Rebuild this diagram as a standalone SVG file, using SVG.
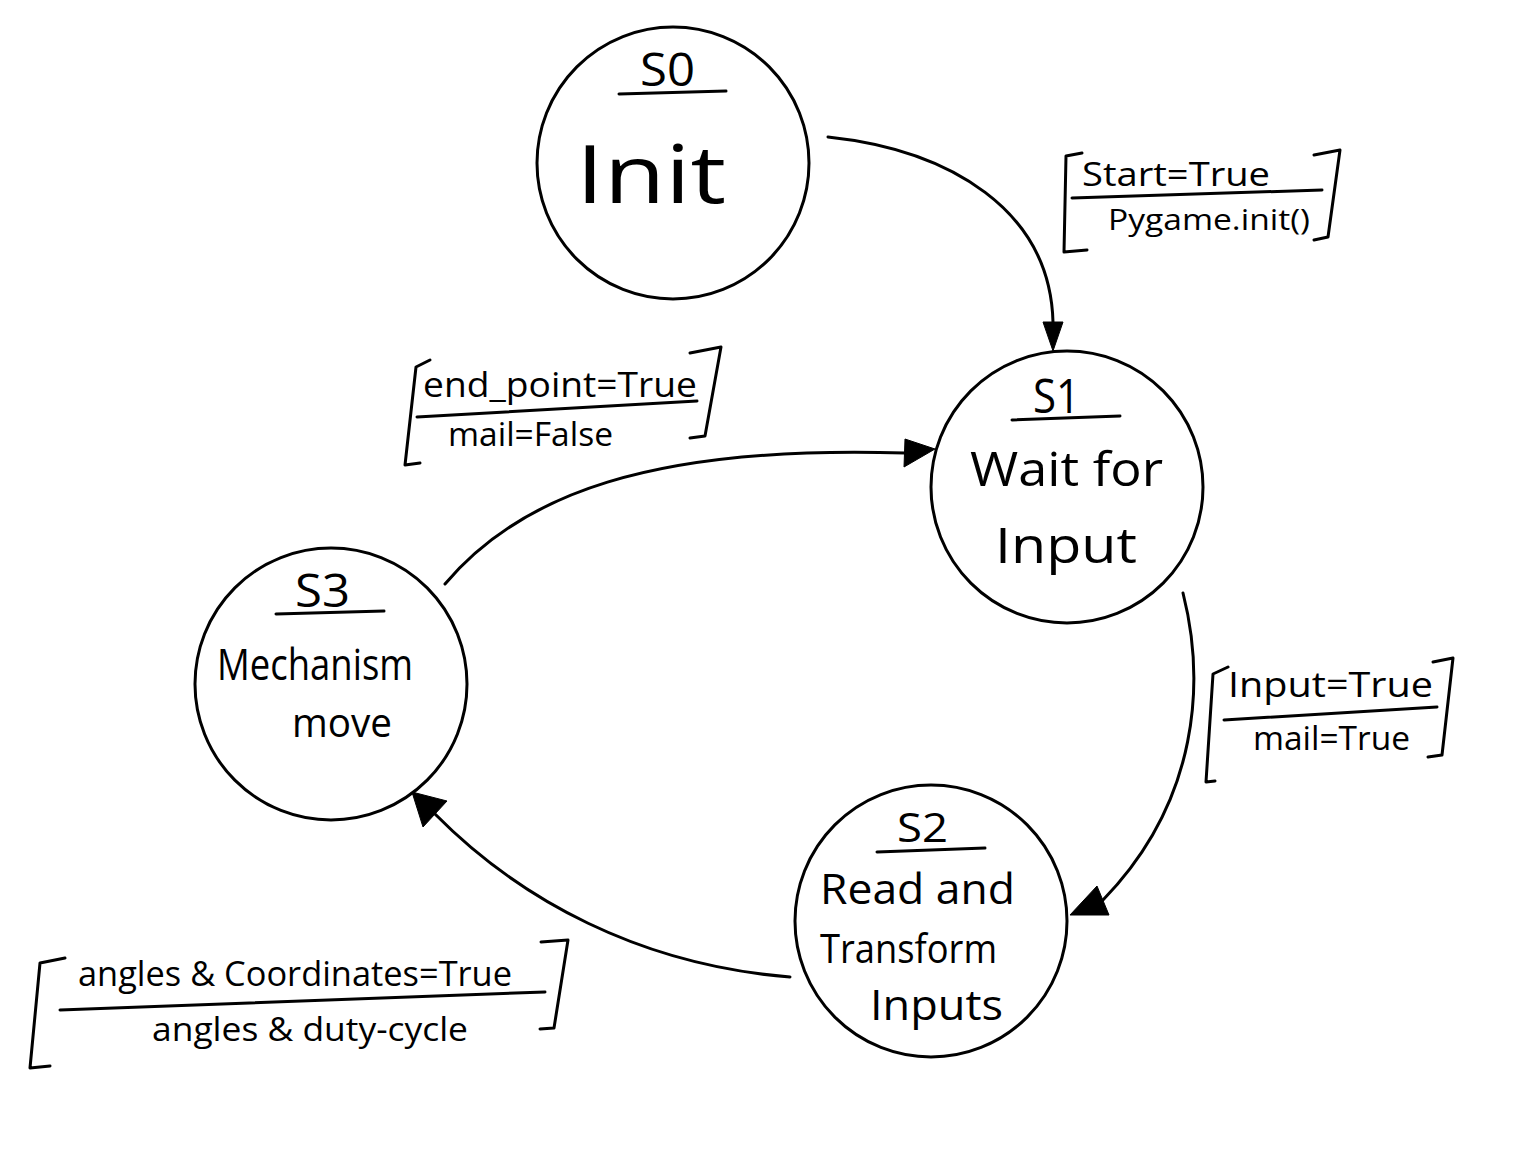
<svg xmlns="http://www.w3.org/2000/svg" width="1513" height="1157" viewBox="0 0 1513 1157">
<style>
.st{fill:#fff;stroke:#000;stroke-width:3}
.ln{fill:none;stroke:#000;stroke-width:3;stroke-linecap:round;stroke-linejoin:round}
.ah{fill:#000;stroke:#000;stroke-width:1}
text{font-family:"Open Sans","DejaVu Sans",sans-serif;fill:#000}
</style>
<rect width="1513" height="1157" fill="#fff"/>
<g id="connectors">
  <path class="ln" d="M828,137 C950,150 1050,210 1053,322"/>
  <polygon class="ah" points="1053,351 1043,322 1063,322"/>
  <path class="ln" d="M1183,593 C1205,680 1200,800 1103,900"/>
  <polygon class="ah" points="1070,915 1097,886 1109,915"/>
  <path class="ln" d="M790,977 C640,965 520,900 435,814"/>
  <polygon class="ah" points="412,792 447,801 423,827"/>
  <path class="ln" d="M445,584 C520,495 650,445 905,453"/>
  <polygon class="ah" points="935,449 905,439 904,467"/>
</g>
<g id="S0">
  <circle class="st" cx="673" cy="163" r="136"/>
  <text x="640" y="86" font-size="46" textLength="55" lengthAdjust="spacingAndGlyphs">S0</text>
  <line class="ln" x1="619" y1="94" x2="726" y2="91"/>
  <text x="576" y="203" font-size="80" textLength="150" lengthAdjust="spacingAndGlyphs">Init</text>
</g>
<g id="S1">
  <circle class="st" cx="1067" cy="487" r="136"/>
  <text x="1033" y="413" font-size="48" textLength="47" lengthAdjust="spacingAndGlyphs">S1</text>
  <line class="ln" x1="1012" y1="420" x2="1120" y2="416"/>
  <text x="970" y="486" font-size="48" textLength="193" lengthAdjust="spacingAndGlyphs">Wait for</text>
  <text x="995" y="563" font-size="50" textLength="142" lengthAdjust="spacingAndGlyphs">Input</text>
</g>
<g id="S2">
  <circle class="st" cx="931" cy="921" r="136"/>
  <text x="897" y="842" font-size="40" textLength="51" lengthAdjust="spacingAndGlyphs">S2</text>
  <line class="ln" x1="877" y1="852" x2="985" y2="848"/>
  <text x="820" y="904" font-size="42" textLength="195" lengthAdjust="spacingAndGlyphs">Read and</text>
  <text x="820" y="963" font-size="40" textLength="177" lengthAdjust="spacingAndGlyphs">Transform</text>
  <text x="870" y="1020" font-size="42" textLength="133" lengthAdjust="spacingAndGlyphs">Inputs</text>
</g>
<g id="S3">
  <circle class="st" cx="331" cy="684" r="136"/>
  <text x="295" y="607" font-size="46" textLength="55" lengthAdjust="spacingAndGlyphs">S3</text>
  <line class="ln" x1="276" y1="614" x2="384" y2="611"/>
  <text x="217" y="680" font-size="44" textLength="196" lengthAdjust="spacingAndGlyphs">Mechanism</text>
  <text x="292" y="737" font-size="40" textLength="100" lengthAdjust="spacingAndGlyphs">move</text>
</g>
<g id="label-S0-S1">
  <text x="1082" y="186" font-size="32" textLength="188" lengthAdjust="spacingAndGlyphs">Start=True</text>
  <line class="ln" x1="1072" y1="198" x2="1322" y2="190"/>
  <text x="1108" y="230" font-size="30" textLength="202" lengthAdjust="spacingAndGlyphs">Pygame.init()</text>
  <path class="ln" d="M1082,153 L1066,156 L1064,252 L1087,250"/>
  <path class="ln" d="M1314,155 L1340,150 L1328,237 L1314,240"/>
</g>
<g id="label-S3-S1">
  <text x="423" y="397" font-size="34" textLength="274" lengthAdjust="spacingAndGlyphs">end_point=True</text>
  <line class="ln" x1="417" y1="417" x2="697" y2="401"/>
  <text x="448" y="446" font-size="32" textLength="165" lengthAdjust="spacingAndGlyphs">mail=False</text>
  <path class="ln" d="M430,360 L416,367 L405,465 L420,463"/>
  <path class="ln" d="M690,353 L721,347 L705,436 L690,438"/>
</g>
<g id="label-S1-S2">
  <text x="1228" y="697" font-size="34" textLength="205" lengthAdjust="spacingAndGlyphs">Input=True</text>
  <line class="ln" x1="1224" y1="720" x2="1437" y2="707"/>
  <text x="1253" y="750" font-size="32" textLength="157" lengthAdjust="spacingAndGlyphs">mail=True</text>
  <path class="ln" d="M1228,667 L1213,674 L1206,782 L1215,781"/>
  <path class="ln" d="M1433,662 L1453,658 L1442,755 L1428,757"/>
</g>
<g id="label-S2-S3">
  <text x="78" y="986" font-size="34" textLength="434" lengthAdjust="spacingAndGlyphs">angles &amp; Coordinates=True</text>
  <line class="ln" x1="60" y1="1010" x2="545" y2="992"/>
  <text x="152" y="1041" font-size="32" textLength="316" lengthAdjust="spacingAndGlyphs">angles &amp; duty-cycle</text>
  <path class="ln" d="M65,958 L40,963 L30,1068 L50,1066"/>
  <path class="ln" d="M541,942 L568,940 L554,1028 L540,1029"/>
</g>
</svg>
